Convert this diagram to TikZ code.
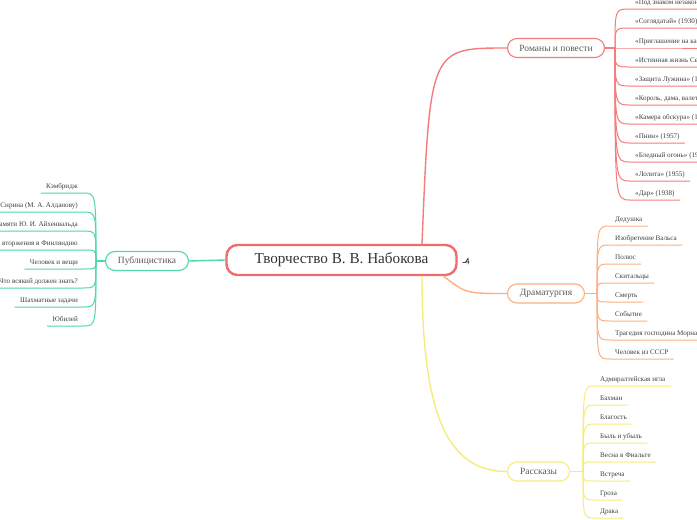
\documentclass[tikz,border=0pt]{standalone}
\usepackage{fontspec}
\setmainfont{Liberation Serif}
\definecolor{rd}{HTML}{F26B6B}
\definecolor{rl}{HTML}{F57C7C}
\definecolor{og}{HTML}{FDB07E}
\definecolor{yw}{HTML}{F6EC7C}
\definecolor{gn}{HTML}{4FD9A6}
\begin{document}
\begin{tikzpicture}[x=1pt,y=-1pt,line cap=round,
 hub/.style={draw=rd,line width=2.4pt,rounded corners=11pt,minimum width=230pt,minimum height=30pt,text=black!80,font=\fontsize{15.2}{17}\selectfont},
 br/.style={draw,fill=white,line width=1.1pt,rounded corners=9.5pt,minimum height=19pt,text=black!65,font=\fontsize{9.5}{11}\selectfont},
 lf/.style={inner xsep=5pt,inner ysep=2.6pt,text height=5pt,text depth=1.6pt,text=black!75,font=\fontsize{7.1}{8}\selectfont},
 lr/.style={lf,anchor=south west},ll/.style={lf,anchor=south east},
 lk/.style={line width=1pt,to path={.. controls (\tikztostart|-\tikztotarget.south west) .. (\tikztotarget.south west) -- (\tikztotarget.south east)}},
 lkl/.style={line width=1pt,to path={.. controls (\tikztostart|-\tikztotarget.south east) .. (\tikztotarget.south east) -- (\tikztotarget.south west)}}]
\useasboundingbox[fill=white] (0,0) rectangle (697,520);
% centre
\node[hub](hub) at (341.5,260){Творчество В. В. Набокова};
\node[br,draw=rl,minimum width=97pt](rom) at (556,48){Романы и повести};
\node[br,draw=og,minimum width=77pt](dra) at (546,293.5){Драматургия};
\node[br,draw=yw,minimum width=62pt](ras) at (538.5,471.5){Рассказы};
\node[br,draw=gn,minimum width=83pt](pub) at (147,261){Публицистика};
% small mark beside the centre
\draw[black!75,line width=0.8pt]([xshift=5pt]hub.east) ++(0,2.5) -- ++(3,0) ++(2.5,-4.5) -- ++(-2.5,4) -- ++(3.5,0) ++(-1,-2.5) -- ++(0,4.5);
\draw[rl,line width=1.4pt]([xshift=80.5pt]hub.north) .. controls (430,48) .. (rom.west);
\draw[og,line width=1.4pt]([xshift=102pt]hub.south) .. controls (466,293.5) .. (dra.west);
\draw[yw,line width=1.4pt]([xshift=80.5pt]hub.south) .. controls (422,420) and (450,471.5) .. (ras.west);
\draw[gn,line width=1.4pt](hub.west) -- (pub.east);
% romany
\coordinate(rj) at (615,48);
\node[lr](r1) at (630,9){«Под знаком незаконнорождённых» (1947)};
\node[lr](r2) at (630,28){«Соглядатай» (1930)};
\node[lr](r3) at (630,48){«Приглашение на казнь» (1936)};
\node[lr](r4) at (630,67){«Истинная жизнь Себастьяна Найта» (1941)};
\node[lr](r5) at (630,86){«Защита Лужина» (1930)};
\node[lr](r6) at (630,105){«Король, дама, валет» (1928)};
\node[lr](r7) at (630,124){«Камера обскура» (1932)};
\node[lr](r8) at (630,143){«Пнин» (1957)};
\node[lr](r9) at (630,162){«Бледный огонь» (1962)};
\node[lr](r10) at (630,181){«Лолита» (1955)};
\node[lr](r11) at (630,200){«Дар» (1938)};
\draw[rl,line width=1.4pt](rom.east) -- (rj);
\draw[rl,lk](rj) to (r1);\draw[rl,lk](rj) to (r2);\draw[rl,lk](rj) to (r3);\draw[rl,lk](rj) to (r4);
\draw[rl,lk](rj) to (r5);\draw[rl,lk](rj) to (r6);\draw[rl,lk](rj) to (r7);\draw[rl,lk](rj) to (r8);
\draw[rl,lk](rj) to (r9);\draw[rl,lk](rj) to (r10);\draw[rl,lk](rj) to (r11);
% dramaturgiya
\coordinate(dj) at (597,293.5);
\node[lr](d1) at (610,226){Дедушка};
\node[lr](d2) at (610,245){Изобретение Вальса};
\node[lr](d3) at (610,264){Полюс};
\node[lr](d4) at (610,283){Скитальцы};
\node[lr](d5) at (610,302){Смерть};
\node[lr](d6) at (610,321){Событие};
\node[lr](d7) at (610,340){Трагедия господина Морна};
\node[lr](d8) at (610,359){Человек из СССР};
\draw[og,line width=1.4pt](dra.east) -- (dj);
\draw[og,lk](dj) to (d1);\draw[og,lk](dj) to (d2);\draw[og,lk](dj) to (d3);\draw[og,lk](dj) to (d4);
\draw[og,lk](dj) to (d5);\draw[og,lk](dj) to (d6);\draw[og,lk](dj) to (d7);\draw[og,lk](dj) to (d8);
% rasskazy
\coordinate(sj) at (583,471.5);
\node[lr](s1) at (595,386){Адмиралтейская игла};
\node[lr](s2) at (595,405){Бахман};
\node[lr](s3) at (595,424){Благость};
\node[lr](s4) at (595,443){Быль и убыль};
\node[lr](s5) at (595,462){Весна в Фиальте};
\node[lr](s6) at (595,481){Встреча};
\node[lr](s7) at (595,500){Гроза};
\node[lr](s8) at (595,518){Драка};
\draw[yw,line width=1.4pt](ras.east) -- (sj);
\draw[yw,lk](sj) to (s1);\draw[yw,lk](sj) to (s2);\draw[yw,lk](sj) to (s3);\draw[yw,lk](sj) to (s4);
\draw[yw,lk](sj) to (s5);\draw[yw,lk](sj) to (s6);\draw[yw,lk](sj) to (s7);\draw[yw,lk](sj) to (s8);
% publitsistika
\coordinate(pj) at (96,261);
\node[ll](p1) at (83,193){Кэмбридж};
\node[ll](p2) at (83,212){Письмо В. Сирина (М. А. Алданову)};
\node[ll](p3) at (83,231){Памяти Ю. И. Айхенвальда};
\node[ll](p4) at (83,250){Протест против вторжения в Финляндию};
\node[ll](p5) at (83,269){Человек и вещи};
\node[ll](p6) at (83,288){Что всякий должен знать?};
\node[ll](p7) at (83,307){Шахматные задачи};
\node[ll](p8) at (83,326){Юбилей};
\draw[gn,line width=1.4pt](pub.west) -- (pj);
\draw[gn,lkl](pj) to (p1);\draw[gn,lkl](pj) to (p2);\draw[gn,lkl](pj) to (p3);\draw[gn,lkl](pj) to (p4);
\draw[gn,lkl](pj) to (p5);\draw[gn,lkl](pj) to (p6);\draw[gn,lkl](pj) to (p7);\draw[gn,lkl](pj) to (p8);
\end{tikzpicture}
\end{document}
